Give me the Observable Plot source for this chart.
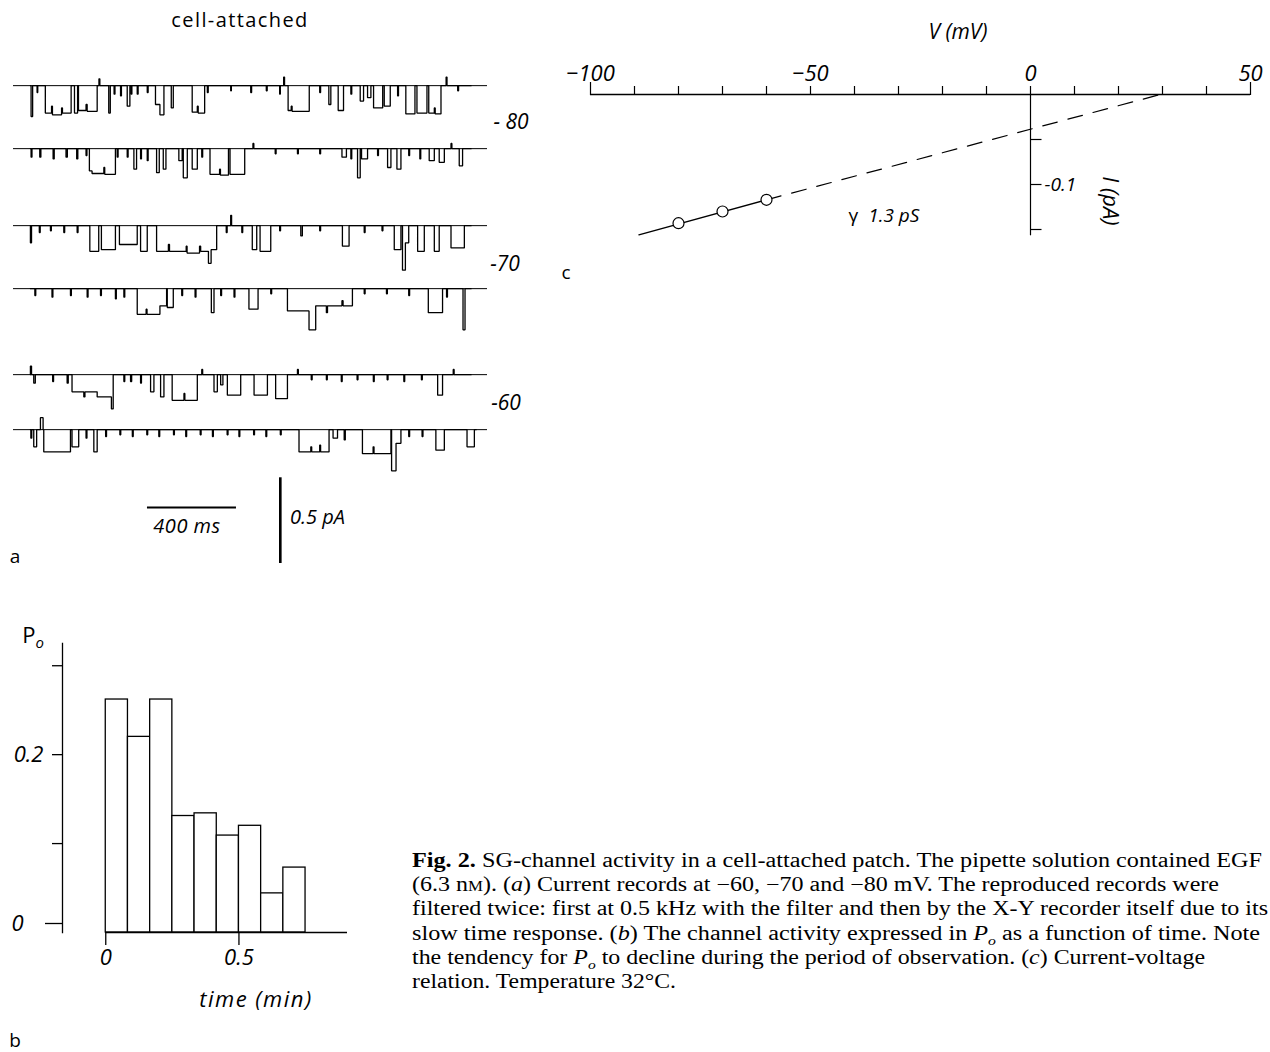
<!DOCTYPE html>
<html><head><meta charset="utf-8">
<script src="https://cdn.jsdelivr.net/npm/d3@7"></script>
<script src="https://cdn.jsdelivr.net/npm/@observablehq/plot@0.6"></script>
<style>
html,body{margin:0;padding:0;background:#fff;}
#fig{position:relative;width:1270px;height:1052px;overflow:hidden;background:#fff;font-family:"Open Sans",sans-serif;color:#000;}
.abs{position:absolute;white-space:nowrap;line-height:1;}
.cap{position:absolute;left:412px;font-family:"Liberation Serif","Times New Roman",serif;font-size:20px;white-space:nowrap;line-height:1;transform-origin:0 50%;}
#fig svg{position:absolute;overflow:visible;}
</style></head><body><div id="fig"></div>
<script>
// ---------------- DATA ----------------
// Panel a: single-channel records, events [start ms, end ms, current pA]
const trace80a = [[3,10,-0.18],[30,33,-0.04],[67,95,-0.16],[95,99,-0.12],[99,140,-0.17],[140,144,-0.13],[144,183,-0.16],[198,212,-0.16],[216,250,-0.145],[250,255,-0.11],[255,300,-0.15],[308,312,0.04],[352,359,-0.16],[376,380,-0.05],[405,409,-0.06],[435,447,-0.12],[453,456,-0.05],[480,484,-0.05],[525,529,-0.04],[562,582,-0.11],[582,600,-0.17],[633,642,-0.13],[727,750,-0.155],[750,754,-0.12],[754,783,-0.16],[795,799,-0.04],[900,903,-0.03],[990,994,-0.04],[1060,1064,-0.03],[1120,1123,-0.05],[1138,1142,0.05],[1158,1172,-0.145],[1172,1176,-0.12],[1176,1253,-0.15],[1300,1304,-0.04],[1341,1350,-0.11],[1383,1407,-0.145],[1440,1444,-0.05],[1482,1497,-0.09],[1515,1530,-0.07],[1542,1583,-0.13],[1590,1617,-0.12],[1650,1654,-0.06],[1687,1728,-0.165],[1737,1782,-0.16],[1790,1815,-0.16],[1815,1819,-0.13],[1819,1845,-0.165],[1868,1872,0.05],[1920,1924,-0.03]];
const trace80b = [[3,7,-0.05],[42,47,-0.05],[102,107,-0.06],[160,166,-0.05],[208,213,-0.06],[250,254,-0.04],[265,277,-0.13],[277,330,-0.145],[330,334,-0.11],[334,382,-0.15],[390,394,-0.05],[435,439,-0.05],[465,477,-0.12],[495,499,-0.06],[525,529,-0.07],[567,579,-0.14],[597,609,-0.12],[667,682,-0.07],[687,705,-0.17],[727,750,-0.12],[770,774,-0.05],[807,850,-0.15],[850,854,-0.12],[854,890,-0.155],[897,963,-0.15],[1000,1004,0.03],[1100,1104,-0.03],[1200,1204,-0.03],[1300,1304,-0.03],[1400,1420,-0.05],[1440,1444,-0.06],[1470,1482,-0.17],[1488,1515,-0.06],[1560,1564,-0.04],[1605,1620,-0.11],[1647,1665,-0.12],[1700,1704,-0.04],[1750,1754,-0.06],[1792,1815,-0.07],[1837,1860,-0.08],[1890,1894,0.03],[1927,1942,-0.1]];
const trace70a = [[0,5,-0.1],[40,44,-0.04],[90,94,-0.03],[150,154,-0.04],[210,214,-0.04],[267,307,-0.15],[319,382,-0.14],[400,480,-0.11],[495,525,-0.15],[567,620,-0.15],[620,625,-0.11],[625,700,-0.15],[700,704,-0.12],[704,760,-0.16],[760,765,-0.12],[765,800,-0.15],[800,812,-0.22],[812,837,-0.14],[880,884,-0.04],[900,904,0.06],[950,954,-0.04],[997,1017,-0.14],[1032,1080,-0.15],[1120,1124,-0.03],[1215,1222,-0.06],[1300,1304,-0.03],[1402,1432,-0.12],[1500,1504,-0.04],[1580,1584,-0.03],[1635,1665,-0.14],[1672,1685,-0.26],[1685,1700,-0.1],[1740,1770,-0.15],[1815,1837,-0.15],[1890,1950,-0.13]];
const trace70b = [[20,24,-0.04],[97,101,-0.05],[180,184,-0.04],[255,259,-0.05],[315,319,-0.04],[382,386,-0.06],[420,424,-0.05],[480,520,-0.15],[520,524,-0.12],[524,582,-0.15],[582,612,-0.1],[615,642,-0.11],[680,684,-0.04],[740,744,-0.05],[813,825,-0.14],[855,859,-0.04],[915,919,-0.05],[982,1023,-0.12],[1080,1084,-0.03],[1155,1252,-0.13],[1252,1282,-0.24],[1282,1330,-0.1],[1330,1335,-0.14],[1335,1400,-0.1],[1400,1405,-0.07],[1405,1447,-0.1],[1500,1504,-0.03],[1600,1604,-0.03],[1700,1704,-0.04],[1788,1852,-0.14],[1870,1874,-0.05],[1944,1953,-0.24]];
const trace60a = [[0,5,0.05],[15,22,-0.05],[100,104,-0.04],[165,170,-0.05],[187,240,-0.1],[240,245,-0.13],[245,300,-0.1],[300,364,-0.13],[364,372,-0.2],[420,424,-0.04],[450,455,-0.04],[495,499,-0.05],[540,555,-0.1],[585,600,-0.13],[637,690,-0.15],[690,694,-0.11],[694,750,-0.15],[770,774,0.03],[825,840,-0.1],[855,865,-0.06],[885,945,-0.12],[1005,1065,-0.12],[1102,1155,-0.14],[1200,1204,0.03],[1262,1266,-0.03],[1330,1334,-0.03],[1397,1401,-0.04],[1468,1472,-0.03],[1541,1545,-0.04],[1603,1607,-0.03],[1678,1682,-0.04],[1757,1761,-0.03],[1830,1852,-0.12],[1900,1904,0.03]];
const trace60b = [[2,6,-0.05],[15,28,-0.1],[45,57,0.07],[60,180,-0.13],[187,217,-0.1],[250,254,-0.05],[285,300,-0.13],[338,342,-0.04],[402,406,-0.03],[458,462,-0.04],[523,527,-0.03],[577,581,-0.04],[643,647,-0.03],[698,702,-0.04],[763,767,-0.03],[818,822,-0.04],[884,888,-0.03],[937,941,-0.04],[1003,1007,-0.03],[1058,1062,-0.04],[1123,1127,-0.03],[1207,1260,-0.13],[1260,1264,-0.1],[1264,1300,-0.13],[1300,1304,-0.09],[1304,1342,-0.13],[1360,1380,-0.05],[1410,1415,-0.06],[1492,1540,-0.14],[1540,1544,-0.1],[1544,1620,-0.14],[1623,1643,-0.24],[1643,1665,-0.08],[1700,1704,-0.04],[1760,1764,-0.04],[1822,1860,-0.12],[1962,1995,-0.1]];
const traceEnds = [1980, 1980, 1980, 1980, 1980, 2003];   // ms, end of each record
const voltageLabels = ["- 80", "-70", "-60"];
const scaleBarTime = 400;     // ms
const scaleBarCurrent = 0.5;  // pA

// Panel b: open probability per 5-s bin
const poBinEdges = [0, 0.0833, 0.1667, 0.25, 0.3333, 0.4167, 0.5, 0.5833, 0.6667, 0.75]; // min
const poValues = [0.262, 0.220, 0.262, 0.131, 0.134, 0.109, 0.120, 0.044, 0.073];
const poYTicks = [0.1, 0.2, 0.3];
const poXTicks = [0, 0.5];

// Panel c: current-voltage relation
const ivVoltage = [-80, -70, -60];          // mV
const ivCurrent = [-0.143, -0.130, -0.117]; // pA
const ivSolidV = [-89, -60], ivSolidI = [-0.156, -0.117];
const ivDashV = [-60, 29.5], ivDashI = [-0.117, 0];
const ivXDomain = [-100, 50];
const ivXMinorTicks = [-90, -80, -70, -60, -50, -40, -30, -20, -10, 0, 10, 20, 30, 40];
const ivXEndTicks = [-100, 50];
const ivXLabels = [-100, -50, 0, 50];
const ivYTicks = [-0.05, -0.1, -0.15];
const ivYLabels = [-0.1];
const ivYAxisEnd = -0.157;

// ---------------- LAYOUT ----------------
const fig = document.getElementById("fig");
const FONT = "Open Sans";
function place(svg, left, top) { svg.style.left = left + "px"; svg.style.top = top + "px"; fig.appendChild(svg); return svg; }
function label(html, x, y, css) {
  const d = document.createElement("div"); d.className = "abs"; d.innerHTML = html;
  d.style.left = x + "px"; d.style.top = y + "px"; d.style.transform = "translate(-50%,-50%)";
  Object.assign(d.style, css || {}); fig.appendChild(d); return d;
}
const baseStyle = {background: "transparent", overflow: "visible", fontFamily: FONT};
const fmt = d => String(d);

// ---- panel a ----
const traceX = {domain: [-76, 2054], axis: null};
const traceYDomain = [-0.25, 0.1];
const traceH = 60;
const y0px = traceH * traceYDomain[1] / (traceYDomain[1] - traceYDomain[0]);
const traceBaselines = [85.3, 147.7, 225, 287.7, 374.3, 429.3];
function stepPoints(events, tEnd) {
  const pts = [[0, 0]]; let prev = 0;
  for (const [a, b, i] of events) {
    if (a > prev) pts.push([prev, 0], [a, 0]);
    pts.push([a, i], [b, i]); prev = b;
  }
  pts.push([prev, 0], [tEnd, 0]);
  return pts;
}
[trace80a, trace80b, trace70a, trace70b, trace60a, trace60b].forEach((ev, k) => {
  const pts = stepPoints(ev, traceEnds[k]);
  const p = Plot.plot({
    width: 500, height: traceH, marginLeft: 13, marginRight: 13, marginTop: 0, marginBottom: 0,
    x: traceX, y: {domain: traceYDomain, axis: null}, style: baseStyle,
    marks: [
      Plot.ruleY([0], {stroke: "black", strokeWidth: 1}),
      Plot.line(pts, {x: d => d[0], y: d => d[1], stroke: "black", strokeWidth: 1.3, strokeLinejoin: "miter"})
    ]
  });
  place(p, 0, traceBaselines[k] - y0px);
});
// scale bars, same x and pA scales
{
  const sbTop = 460, sbH = 120, pxPerPA = traceH / (traceYDomain[1] - traceYDomain[0]);
  const hBarT0 = 526, hBarI = (sbTop + sbH - 507) / pxPerPA;
  const vBarT = 1123, vBarI0 = (sbTop + sbH - 563) / pxPerPA;
  const p = Plot.plot({
    width: 500, height: sbH, marginLeft: 13, marginRight: 13, marginTop: 0, marginBottom: 0,
    x: traceX, y: {domain: [0, sbH / pxPerPA], axis: null}, style: baseStyle,
    marks: [
      Plot.ruleY([hBarI], {x1: hBarT0, x2: hBarT0 + scaleBarTime, stroke: "black", strokeWidth: 2.2}),
      Plot.ruleX([vBarT], {y1: vBarI0, y2: vBarI0 + scaleBarCurrent, stroke: "black", strokeWidth: 2.6})
    ]
  });
  place(p, 0, sbTop);
}
label("cell-attached", 240, 20, {fontSize: "20px", letterSpacing: "1.4px"});
label(voltageLabels[0], 511, 121, {fontSize: "21px", fontStyle: "italic"});
label(voltageLabels[1], 505, 263, {fontSize: "21px", fontStyle: "italic"});
label(voltageLabels[2], 506, 402, {fontSize: "21px", fontStyle: "italic"});
label(scaleBarTime + " ms", 187, 526, {fontSize: "20px", fontStyle: "italic", letterSpacing: "0.5px"});
{ const d = label(scaleBarCurrent + " pA", 290, 517, {fontSize: "20px", fontStyle: "italic"}); d.style.transform = "translate(0,-50%)"; }
label("a", 15, 556, {fontSize: "19px"});

// ---- panel b ----
{
  const bars = poValues.map((v, i) => ({x1: poBinEdges[i], x2: poBinEdges[i + 1], y: v}));
  const p = Plot.plot({
    width: 400, height: 400, marginLeft: 62, marginRight: 53, marginTop: 43, marginBottom: 68,
    x: {domain: [-0.1624, 0.9075]}, y: {domain: [0, 0.325]}, style: baseStyle,
    marks: [
      Plot.rectY(bars, {x1: "x1", x2: "x2", y: "y", fill: "white", stroke: "black", strokeWidth: 1.3}),
      Plot.ruleY([0], {x1: poXTicks[0], x2: 0.9075, stroke: "black", strokeWidth: 1.3}),
      Plot.frame({anchor: "left", stroke: "black", strokeWidth: 1.3}),
      Plot.axisY(poYTicks, {anchor: "left", label: null, tickSize: 10, tickFormat: () => "", strokeWidth: 1.3}),
      Plot.axisY([0], {anchor: "left", label: null, tickSize: 17, tickPadding: 22, dy: -9, tickFormat: fmt, fontSize: 22, fontStyle: "italic", strokeWidth: 1.3}),
      Plot.axisY([0.2], {anchor: "left", label: null, tickSize: 0, tickPadding: 19, tickFormat: fmt, fontSize: 22, fontStyle: "italic"}),
      Plot.axisX(poXTicks, {anchor: "bottom", label: null, tickSize: 13, tickPadding: 4, tickFormat: fmt, fontSize: 22, fontStyle: "italic", strokeWidth: 1.3})
    ]
  });
  place(p, 0, 600);
}
label('P<sub style="font-size:15px;font-style:italic;vertical-align:-5px">o</sub>', 33, 636, {fontSize: "22px"});
label("time (min)", 256, 998, {fontSize: "22px", fontStyle: "italic", letterSpacing: "1.5px"});
label("b", 15, 1040, {fontSize: "19px"});

// ---- panel c ----
{
  const tickRight = {draw(ctx, size) { const l = Math.sqrt(size / Math.PI); ctx.moveTo(0, 0); ctx.lineTo(l, 0); }};
  const pts = ivVoltage.map((v, i) => ({v, i: ivCurrent[i]}));
  const solid = ivSolidV.map((v, k) => ({v, i: ivSolidI[k]}));
  const dashed = ivDashV.map((v, k) => ({v, i: ivDashI[k]}));
  const p = Plot.plot({
    width: 730, height: 280, marginLeft: 50, marginRight: 20, marginTop: 94, marginBottom: 51,
    x: {domain: ivXDomain}, y: {domain: [-0.15, 0], axis: null}, style: baseStyle,
    marks: [
      Plot.ruleY([0], {x1: ivXDomain[0], x2: ivXDomain[1], stroke: "black", strokeWidth: 1.4}),
      Plot.axisX(ivXMinorTicks, {anchor: "top", label: null, tickSize: 9, tickFormat: () => "", strokeWidth: 1.2}),
      Plot.axisX(ivXEndTicks, {anchor: "top", label: null, tickSize: 13, tickFormat: () => "", strokeWidth: 1.2}),
      Plot.axisX(ivXLabels, {anchor: "top", label: null, tickSize: 0, tickPadding: 14, fontSize: 22, fontStyle: "italic"}),
      Plot.ruleX([0], {y1: 0, y2: ivYAxisEnd, stroke: "black", strokeWidth: 1.2}),
      Plot.dot(ivYTicks, {x: () => 0, y: d => d, symbol: tickRight, r: 11, fill: "none", stroke: "black", strokeWidth: 1.2}),
      Plot.text(ivYLabels, {x: () => 0, y: d => d, text: fmt, dx: 14, textAnchor: "start", fontSize: 19, fontStyle: "italic"}),
      Plot.line(dashed, {x: "v", y: "i", stroke: "black", strokeWidth: 1.2, strokeDasharray: "15,11"}),
      Plot.line(solid, {x: "v", y: "i", stroke: "black", strokeWidth: 1.3}),
      Plot.dot(pts, {x: "v", y: "i", r: 5.5, fill: "white", stroke: "black", strokeWidth: 1.2})
    ]
  });
  place(p, 540, 0);
}
label('<i>V</i> (<i>mV</i>)', 958, 31, {fontSize: "21px", fontStyle: "italic"});
{ const d = label('<i>I</i> (<i>pA</i>)', 1112, 201, {fontSize: "22px", fontStyle: "italic"}); d.style.transform = "translate(-50%,-50%) rotate(90deg)"; }
label('γ&nbsp;&nbsp;<i>1.3 pS</i>', 884, 215, {fontSize: "19px"});
label("c", 566, 272, {fontSize: "19px"});

// ---- caption ----
const capLines = [
  '<b>Fig. 2.</b> SG-channel activity in a cell-attached patch. The pipette solution contained EGF',
  '(6.3 n<span style="font-size:14px">M</span>). (<i>a</i>) Current records at &minus;60, &minus;70 and &minus;80 mV. The reproduced records were',
  'filtered twice: first at 0.5 kHz with the filter and then by the X-Y recorder itself due to its',
  'slow time response. (<i>b</i>) The channel activity expressed in <i>P<sub style="font-size:13px">o</sub></i> as a function of time. Note',
  'the tendency for <i>P<sub style="font-size:13px">o</sub></i> to decline during the period of observation. (<i>c</i>) Current-voltage',
  'relation. Temperature 32°C.'
];
const capRight = [1262, 1219, 1268, 1260, 1205, 676];
const capY = [862, 886, 910, 935, 959, 983];
capLines.forEach((h, k) => {
  const d = document.createElement("div"); d.className = "cap"; d.innerHTML = h;
  d.style.top = (capY[k] - 12) + "px"; fig.appendChild(d);
  const w = d.getBoundingClientRect().width;
  d.style.transform = "scaleX(" + ((capRight[k] - 412) / w).toFixed(4) + ")";
});
</script></body></html>
